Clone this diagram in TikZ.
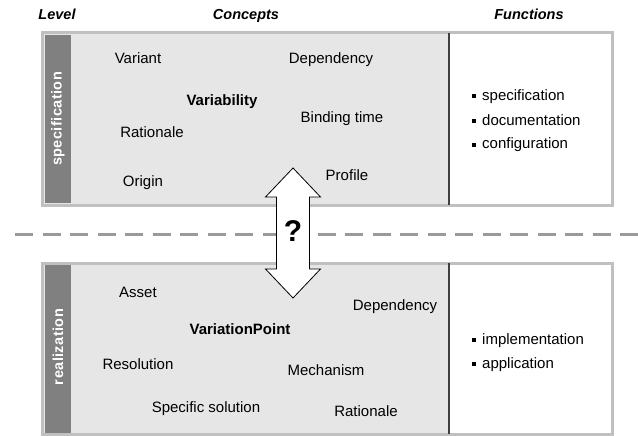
\documentclass[tikz,border=0pt]{standalone}
\usepackage{fontspec}
\setmainfont{Liberation Sans}
\definecolor{framegray}{HTML}{C0C0C0}
\definecolor{conceptgray}{HTML}{E6E6E6}
\definecolor{stripgray}{HTML}{808080}
\definecolor{darkline}{HTML}{404040}
\definecolor{dashgray}{HTML}{9A9A9A}
\begin{document}
\begin{tikzpicture}[x=1pt,y=-1pt,
  concept/.style={font=\fontsize{15}{18}\selectfont, inner sep=0, text height=11pt, text depth=3pt},
  keyconcept/.style={concept, font=\fontsize{15}{18}\selectfont\bfseries},
  header/.style={font=\fontsize{14.5}{17}\selectfont\bfseries\itshape, inner sep=0, text height=11pt, text depth=3pt},
  levellabel/.style={font=\fontsize{14.5}{17}\selectfont\bfseries\addfontfeature{LetterSpace=3}, text=white, rotate=90, inner sep=0},
  func/.style={font=\fontsize{15}{18}\selectfont, anchor=base west, inner sep=0},
  panelframe/.style={draw=framegray, line width=3pt},
  divider/.style={draw=darkline, line width=1.5pt},
  bigarrow/.style={draw=black, fill=white, line width=0.8pt, line join=miter},
]
\useasboundingbox (0,0) rectangle (638,436);
\newcommand{\fbul}{\rule[2pt]{4pt}{4pt}\hspace{6pt}}

% headers
\node[header] (hlevel) at (57,16) {Level};
\node[header] (hconcepts) at (246,16) {Concepts};
\node[header] (hfunctions) at (529,16) {Functions};

% top panel
\fill[conceptgray] (42,33) rectangle (449,205);
\fill[white] (449,33) rectangle (612,205);
\fill[stripgray] (45,35) rectangle (71,203);
\draw[panelframe] (42,33) rectangle (612,205);
\draw[divider] (449,33) -- (449,205);
\node[levellabel] (lspec) at (58,119) {specification};

\node[concept] (variant) at (138,60) {Variant};
\node[concept] (dep1) at (331,60) {Dependency};
\node[keyconcept] (variability) at (222,102) {Variability};
\node[concept] (rationale1) at (152,133) {Rationale};
\node[concept] (binding) at (342,118) {Binding time};
\node[concept] (origin) at (143,182) {Origin};
\node[concept] (profile) at (347,176) {Profile};

\node[func] (f1) at (472,100) {\fbul specification};
\node[func] (f2) at (472,125) {\fbul documentation};
\node[func] (f3) at (472,149) {\fbul configuration};

% bottom panel
\fill[conceptgray] (42,263) rectangle (449,434);
\fill[white] (449,263) rectangle (612,434);
\fill[stripgray] (45,265) rectangle (71,436);
\draw[panelframe] (42,263) rectangle (612,434);
\draw[divider] (449,263) -- (449,434);
\node[levellabel] (lreal) at (58,347) {realization};

\node[concept] (asset) at (138,293) {Asset};
\node[concept] (dep2) at (395,306) {Dependency};
\node[keyconcept] (vp) at (240,330) {VariationPoint};
\node[concept] (resolution) at (138,365) {Resolution};
\node[concept] (mechanism) at (326,371) {Mechanism};
\node[concept] (specsol) at (206,408) {Specific solution};
\node[concept] (rationale2) at (366,412) {Rationale};

\node[func] (g1) at (472,344) {\fbul implementation};
\node[func] (g2) at (472,368) {\fbul application};

% dashed separator
\coordinate (dl) at (15,234);
\coordinate (dr) at (638,234);
\draw[dashgray, line width=3pt, dash pattern=on 18pt off 9.5pt] (dl) -- (dr);

% double arrow
\draw[bigarrow] (293,168) -- (320.5,197) -- (309.5,197) -- (309.5,269) -- (320.5,269)
  -- (293,298) -- (265.5,269) -- (276.5,269) -- (276.5,197) -- (265.5,197) -- cycle;
\node[font=\fontsize{30}{34}\selectfont\bfseries, inner sep=0] (q) at (293,231) {?};
\end{tikzpicture}
\end{document}
